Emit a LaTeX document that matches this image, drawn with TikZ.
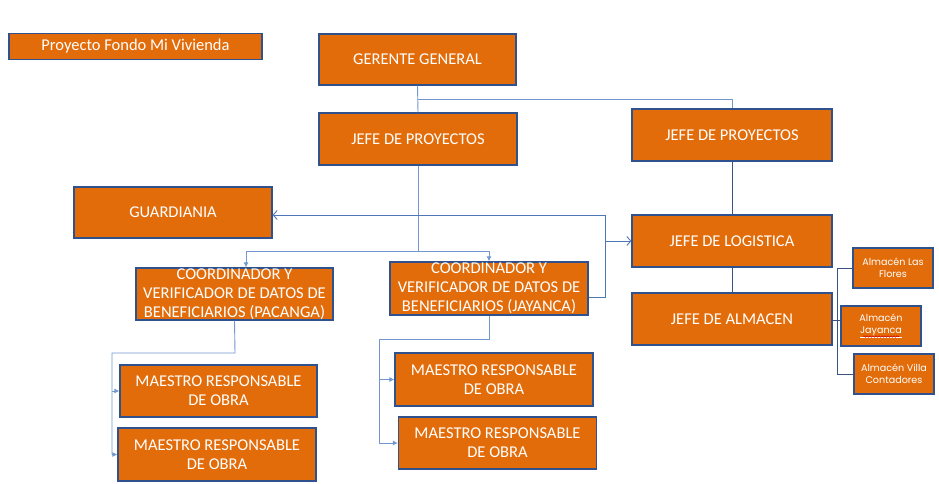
\documentclass[tikz,border=0pt]{standalone}
\usepackage{fontspec}
\setmainfont{Carlito}
\newfontfamily\storefont{Poppins}
\usetikzlibrary{arrows.meta,calc,decorations.pathmorphing}

\definecolor{boxfill}{HTML}{E36C0A}
\definecolor{boxline}{HTML}{2F528F}
\definecolor{linelight}{HTML}{7297D0}
\definecolor{linemid}{HTML}{4F76B5}
\definecolor{linedark}{HTML}{3A5283}

\tikzset{
  unit/.style={draw=boxline, line width=1.2pt, fill=boxfill, text=white,
    font=\fontsize{16.5pt}{19pt}\selectfont, align=center, inner sep=0pt,
    minimum width=198pt, minimum height=52pt},
  titlebox/.style={unit, minimum width=253pt, minimum height=26pt},
  store/.style={unit, font=\storefont\fontsize{9.6pt}{11.5pt}\selectfont,
    minimum width=80pt, minimum height=40pt},
  lnlight/.style={draw=linelight, line width=0.9pt},
  lnmid/.style={draw=linemid, line width=0.9pt},
  lndark/.style={draw=linedark, line width=0.9pt},
  tipfill/.style={-{Latex[length=5pt,width=5pt]}},
  tipopen/.style={-{Straight Barb[length=4pt,width=9pt]}},
}

\begin{document}
\begin{tikzpicture}[x=1pt,y=-1pt]
\useasboundingbox (0,0) rectangle (939,484);

% --- boxes ---
\node[titlebox] (proj) at (135.5,46.5) {Proyecto Fondo Mi Vivienda};
\node[unit, minimum width=197pt, minimum height=51pt] (ger) at (417.5,59.5) {GERENTE GENERAL};
\node[unit] (jpl) at (418,139) {JEFE DE PROYECTOS};
\node[unit, minimum width=200pt] (jpr) at (732,135) {JEFE DE PROYECTOS};
\node[unit, minimum height=51pt] (guard) at (173,212.5) {GUARDIANIA};
\node[unit, minimum width=200pt] (jlog) at (732,241) {JEFE DE LOGISTICA};
\node[unit, minimum width=197pt] (coordp) at (234.5,294)
  {COORDINADOR Y\\VERIFICADOR DE DATOS DE\\BENEFICIARIOS (PACANGA)};
\node[unit, minimum height=53pt] (coordj) at (489,288.5)
  {COORDINADOR Y\\VERIFICADOR DE DATOS DE\\BENEFICIARIOS (JAYANCA)};
\node[unit, minimum width=200pt] (jalm) at (732,319) {JEFE DE ALMACEN};
\node[store] (aflo) at (893,268) {Almacén Las\\Flores};
\node[store] (ajay) at (881,326) {Almacén\\\underline{Jayanca}};
\node[store] (avil) at (894,374) {Almacén Villa\\Contadores};
\node[unit, minimum width=197pt] (ml1) at (218.5,391) {MAESTRO RESPONSABLE\\DE OBRA};
\node[unit, minimum height=53pt] (ml2) at (217,454.5) {MAESTRO RESPONSABLE\\DE OBRA};
\node[unit, minimum height=53pt] (mr1) at (494,379.5) {MAESTRO RESPONSABLE\\DE OBRA};
\node[unit] (mr2) at (497.5,443) {MAESTRO RESPONSABLE\\DE OBRA};

% spell-check squiggle under "Jayanca"
\draw[red!85!black, line width=0.6pt, decorate,
  decoration={snake, amplitude=0.7pt, segment length=3pt}]
  ($(ajay.center)+(-18,10.5)$) -- ($(ajay.center)+(18,10.5)$);

% --- top of the chart ---
\coordinate (split) at (418,99);
\draw[lnlight] (ger.south) -- (jpl.north);
\draw[lnlight] (split) -| (jpr.north);
\draw[lndark] (jpr.south) -- (jlog.north);
\draw[lndark] (jlog.south) -- (jalm.north);

% --- project chief to the coordinators ---
\coordinate (fork) at (418,251);
\draw[lnlight] (jpl.south) -- (fork);
\draw[lnlight, tipfill] (fork) -| ($(coordp.north)+(11.5,0)$);
\draw[lnlight, tipfill] (fork) -| (coordj.north);

% --- Jayanca coordinator to guard and logistics ---
\coordinate (jout) at (605,297);
\coordinate (jtop) at (605,215);
\draw[lnmid] ($(coordj.east)+(0,8.5)$) -- (jout) -- (jtop);
\draw[lnmid, tipopen] (jtop) -- ($(guard.east)+(0,2.5)$);
\draw[lnmid, tipopen] (jout |- jlog.west) -- (jlog.west);

% --- Pacanga coordinator to its foremen ---
\coordinate (pbend) at (235,353);
\coordinate (prail) at (112,353);
\draw[lnlight] (coordp.south) -- (pbend) -- (prail) -- (prail |- ml2.west);
\draw[lnlight, tipfill] (prail |- ml1.west) -- (ml1.west);
\draw[lnlight, tipfill] (prail |- ml2.west) -- (ml2.west);

% --- Jayanca coordinator to its foremen ---
\coordinate (jbend) at (489,339);
\coordinate (jrail) at (379,339);
\draw[lnlight] (coordj.south) -- (jbend) -- (jrail) -- (jrail |- mr2.west);
\draw[lnlight, tipfill] (jrail |- mr1.west) -- (mr1.west);
\draw[lnlight, tipfill] (jrail |- mr2.west) -- (mr2.west);

% --- warehouse chief to the stores ---
\coordinate (srail) at (837,320);
\draw[lndark] (jalm.east |- srail) -- (ajay.west |- srail);
\draw[lndark] (aflo.west) -| (srail |- avil.west) -- (avil.west);
\end{tikzpicture}
\end{document}
